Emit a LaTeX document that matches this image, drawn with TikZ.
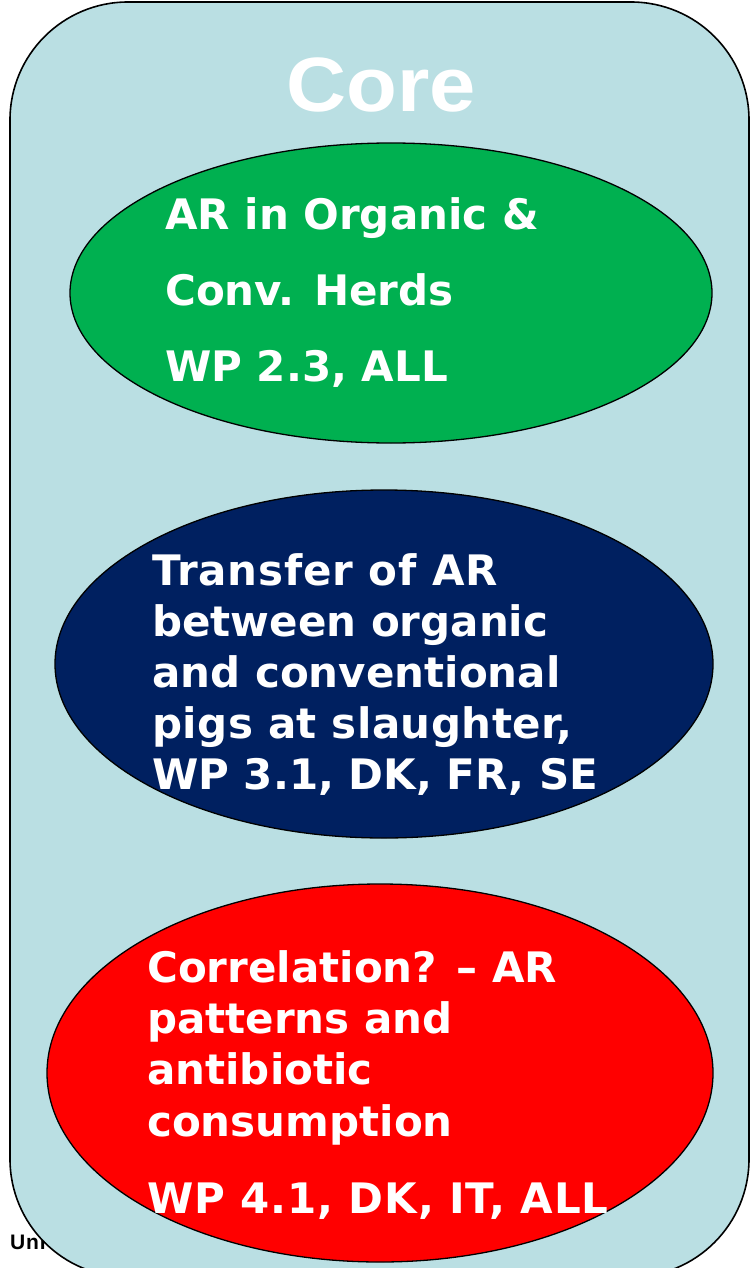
\documentclass[tikz,border=0pt]{standalone}
\usepackage{fontspec}
\setmainfont{DejaVu Sans}
\newfontfamily\arialb{Liberation Sans}[BoldFont={* Bold}]
\usetikzlibrary{shapes.geometric}
\definecolor{corebg}{HTML}{BADFE3}
\definecolor{greenfill}{HTML}{00B050}
\definecolor{navyfill}{HTML}{002060}
\definecolor{redfill}{HTML}{FF0000}
\tikzset{
  blob/.style={ellipse, draw=black, line width=1.3pt, inner sep=0pt},
  wline/.style={anchor=base west, inner sep=0pt, text=white, font=\fontsize{42}{50}\selectfont\bfseries},
}
\begin{document}
\begin{tikzpicture}[x=1pt,y=1pt]
\useasboundingbox (0,0) rectangle (750,-1268);
\node[anchor=base west, inner sep=0pt, font=\arialb\fontsize{21}{24}\selectfont\bfseries] (uni) at (10,-1249) {\addfontfeature{LetterSpace=4}Uni};
\draw[fill=corebg, draw=black, line width=1.6pt, rounded corners=118pt] (10,-2) rectangle (749,-1277);
\node[anchor=base, inner sep=0pt, text=white, font=\arialb\fontsize{77}{90}\selectfont\bfseries] (core) at (381,-112) {\scalebox{1.08}[1]{Core}};
\node[blob, fill=greenfill, minimum width=642pt, minimum height=300pt] (green) at (391,-293) {};
\node[blob, fill=navyfill, minimum width=658pt, minimum height=348pt] (navy) at (384,-664) {};
\node[blob, fill=redfill, minimum width=666pt, minimum height=378pt] (red) at (380,-1073) {};
\node[wline] (g1) at (165,-229) {AR in Organic \&};
\node[wline] (g2) at (165,-305) {Conv. Herds};
\node[wline] (g3) at (165,-381) {WP 2.3, ALL};
\node[wline] (n1) at (152,-585) {\addfontfeature{LetterSpace=2}Transfer of AR};
\node[wline] (n2) at (152,-636) {between organic};
\node[wline] (n3) at (152,-687) {and conventional};
\node[wline] (n4) at (152,-738) {\addfontfeature{LetterSpace=1}pigs at slaughter,};
\node[wline] (n5) at (152,-789) {WP 3.1, DK, FR, SE};
\node[wline] (r1) at (147,-982) {Correlation? – AR};
\node[wline] (r2) at (147,-1033) {patterns and};
\node[wline] (r3) at (147,-1084) {antibiotic};
\node[wline] (r4) at (147,-1136) {consumption};
\node[wline] (r5) at (147,-1213) {\addfontfeature{LetterSpace=2}WP 4.1, DK, IT, ALL};
\end{tikzpicture}
\end{document}
